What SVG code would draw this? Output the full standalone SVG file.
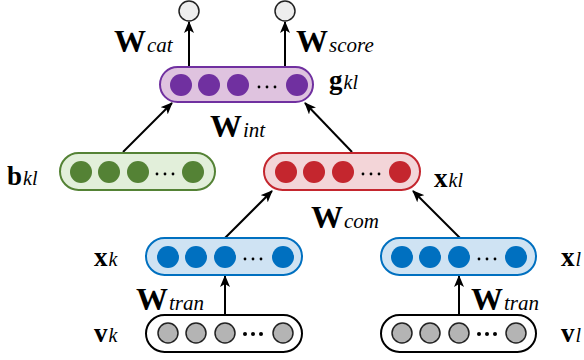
<svg xmlns="http://www.w3.org/2000/svg" width="584" height="360" viewBox="0 0 584 360">
<style>
text{font-family:"Liberation Serif","DejaVu Serif","Times New Roman",serif;fill:#000}
.W{font-weight:bold;font-size:32px}
.s{font-style:italic;font-weight:normal;font-size:21px}
.v{font-weight:bold;font-size:27px}
.s2{font-style:italic;font-weight:normal;font-size:20px}
.conn line{stroke:#000;stroke-width:2;marker-end:url(#ah)}
.pb{fill:#dfc3df;stroke:#7030a0;stroke-width:2}
.pc{fill:#7030a0}
.gb{fill:#e2efda;stroke:#548235;stroke-width:2}
.gc{fill:#548235}
.rb{fill:#f3d5d8;stroke:#c4262e;stroke-width:2}
.rc{fill:#c4262e}
.bb{fill:#cfe3f3;stroke:#0070c0;stroke-width:2}
.bc{fill:#0070c0}
.kb{fill:#fff;stroke:#000;stroke-width:2}
.kc{fill:#b4b4b4;stroke:#222;stroke-width:1.5}
.dot{fill:#000}
.out{fill:#eeeeee;stroke:#222;stroke-width:1.5}
</style>
<defs>
<marker id="ah" viewBox="0 0 12 10" refX="11" refY="5" markerWidth="6" markerHeight="5" markerUnits="strokeWidth" orient="auto">
<path d="M0,0 L12,5 L0,10 L3,5 z" fill="#000"/>
</marker>
</defs>

<g id="connectors" class="conn">
<line x1="189" y1="67" x2="189" y2="22"/>
<line x1="285" y1="67" x2="285" y2="22"/>
<line x1="123" y1="152" x2="172" y2="103"/>
<line x1="352" y1="152" x2="305" y2="103"/>
<line x1="225" y1="238" x2="272" y2="191"/>
<line x1="460" y1="238" x2="413" y2="191"/>
<line x1="225" y1="315" x2="225" y2="276"/>
<line x1="459" y1="315" x2="459" y2="276"/>
</g>

<g id="out_cat"><circle class="out" cx="189" cy="11" r="10"/></g>
<g id="out_score"><circle class="out" cx="285" cy="11" r="10"/></g>

<g id="g_kl">
<rect class="pb" x="160" y="67" width="153" height="35" rx="17.5"/>
<circle class="pc" cx="181" cy="85" r="11"/><circle class="pc" cx="209" cy="85" r="11"/><circle class="pc" cx="238" cy="85" r="11"/><circle class="pc" cx="297" cy="85" r="11"/>
<circle class="dot" cx="259" cy="87" r="1.4"/><circle class="dot" cx="267" cy="87" r="1.4"/><circle class="dot" cx="275" cy="87" r="1.4"/>
</g>

<g id="b_kl">
<rect class="gb" x="60" y="153" width="155" height="37" rx="18.5"/>
<circle class="gc" cx="81" cy="172" r="11"/><circle class="gc" cx="109" cy="172" r="11"/><circle class="gc" cx="138" cy="172" r="11"/><circle class="gc" cx="193" cy="172" r="11"/>
<circle class="dot" cx="157" cy="174" r="1.4"/><circle class="dot" cx="165" cy="174" r="1.4"/><circle class="dot" cx="173" cy="174" r="1.4"/>
</g>

<g id="x_kl">
<rect class="rb" x="264" y="153" width="156" height="37" rx="18.5"/>
<circle class="rc" cx="286" cy="172" r="11"/><circle class="rc" cx="314" cy="172" r="11"/><circle class="rc" cx="343" cy="172" r="11"/><circle class="rc" cx="400" cy="172" r="11"/>
<circle class="dot" cx="363" cy="174" r="1.4"/><circle class="dot" cx="371" cy="174" r="1.4"/><circle class="dot" cx="379" cy="174" r="1.4"/>
</g>

<g id="x_k">
<rect class="bb" x="146" y="238" width="156" height="37" rx="18.5"/>
<circle class="bc" cx="168" cy="257" r="11"/><circle class="bc" cx="196" cy="257" r="11"/><circle class="bc" cx="225" cy="257" r="11"/><circle class="bc" cx="283" cy="257" r="11"/>
<circle class="dot" cx="245" cy="259" r="1.4"/><circle class="dot" cx="253" cy="259" r="1.4"/><circle class="dot" cx="261" cy="259" r="1.4"/>
</g>

<g id="x_l">
<rect class="bb" x="381" y="238" width="155" height="37" rx="18.5"/>
<circle class="bc" cx="402" cy="257" r="11"/><circle class="bc" cx="430" cy="257" r="11"/><circle class="bc" cx="459" cy="257" r="11"/><circle class="bc" cx="516" cy="257" r="11"/>
<circle class="dot" cx="479" cy="259" r="1.4"/><circle class="dot" cx="487" cy="259" r="1.4"/><circle class="dot" cx="495" cy="259" r="1.4"/>
</g>

<g id="v_k">
<rect class="kb" x="146" y="315" width="156" height="37" rx="18.5"/>
<circle class="kc" cx="168" cy="333" r="10"/><circle class="kc" cx="196" cy="333" r="10"/><circle class="kc" cx="225" cy="333" r="10"/><circle class="kc" cx="283" cy="333" r="10"/>
<circle class="dot" cx="245" cy="334" r="2"/><circle class="dot" cx="253" cy="334" r="2"/><circle class="dot" cx="261" cy="334" r="2"/>
</g>

<g id="v_l">
<rect class="kb" x="381" y="315" width="155" height="37" rx="18.5"/>
<circle class="kc" cx="402" cy="333" r="10"/><circle class="kc" cx="430" cy="333" r="10"/><circle class="kc" cx="459" cy="333" r="10"/><circle class="kc" cx="516" cy="333" r="10"/>
<circle class="dot" cx="479" cy="334" r="2"/><circle class="dot" cx="487" cy="334" r="2"/><circle class="dot" cx="495" cy="334" r="2"/>
</g>

<g id="labels">
<text x="114" y="52" class="W">W<tspan class="s" dx="1">cat</tspan></text>
<text x="296" y="52" class="W">W<tspan class="s" dx="1">score</tspan></text>
<text x="329" y="89" class="v">g<tspan class="s2" dx="1">kl</tspan></text>
<text x="210" y="137" class="W">W<tspan class="s" dx="1">int</tspan></text>
<text x="7" y="185" class="v">b<tspan class="s2" dx="1">kl</tspan></text>
<text x="434" y="187" class="v">x<tspan class="s2" dx="1">kl</tspan></text>
<text x="311" y="228" class="W">W<tspan class="s" dx="1">com</tspan></text>
<text x="94" y="266" class="v">x<tspan class="s2" dx="1">k</tspan></text>
<text x="561" y="266" class="v">x<tspan class="s2" dx="1">l</tspan></text>
<text x="136" y="310" class="W">W<tspan class="s" dx="1">tran</tspan></text>
<text x="471" y="310" class="W">W<tspan class="s" dx="1">tran</tspan></text>
<text x="94" y="342" class="v">v<tspan class="s2" dx="1">k</tspan></text>
<text x="561" y="342" class="v">v<tspan class="s2" dx="1">l</tspan></text>
</g>
</svg>
